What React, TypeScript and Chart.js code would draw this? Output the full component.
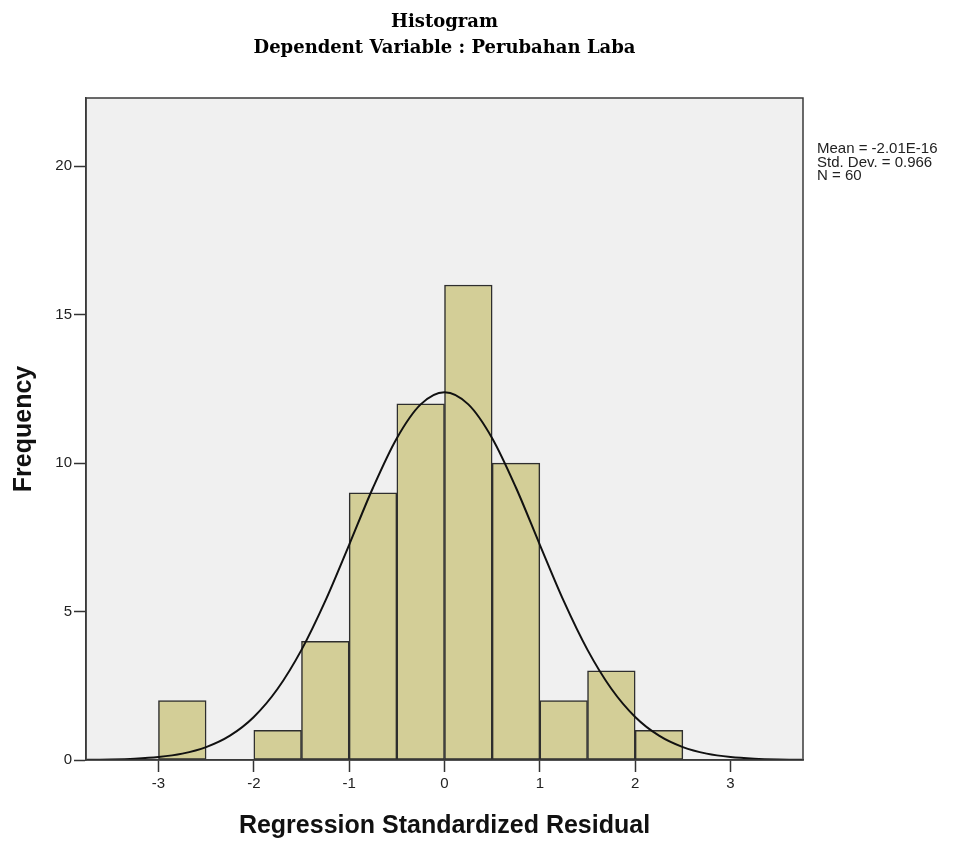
import React, { useEffect, useRef } from "react";
import { Chart, registerables } from "chart.js";

Chart.register(...registerables);

const BIN_CENTERS = [-2.75, -1.75, -1.25, -0.75, -0.25, 0.25, 0.75, 1.25, 1.75, 2.25];
const FREQUENCIES = [2, 1, 4, 9, 12, 16, 10, 2, 3, 1];

const CURVE_X = [
  -3.75, -3.5, -3.25, -3, -2.75, -2.5, -2.25, -2, -1.75, -1.5, -1.25, -1, -0.75, -0.5, -0.25,
  0, 0.25, 0.5, 0.75, 1, 1.25, 1.5, 1.75, 2, 2.25, 2.5, 2.75, 3, 3.25, 3.5, 3.75,
];
const CURVE_Y = [
  0.007, 0.017, 0.043, 0.1, 0.215, 0.435, 0.82, 1.45, 2.4, 3.71, 5.36, 7.25, 9.17, 10.84, 11.98,
  12.39, 11.98, 10.84, 9.17, 7.25, 5.36, 3.71, 2.4, 1.45, 0.82, 0.435, 0.215, 0.1, 0.043, 0.017, 0.007,
];

const X_TICKS = [-3, -2, -1, 0, 1, 2, 3];
const Y_TICKS = [0, 5, 10, 15, 20];

const TITLE_LINES = ["Histogram", "Dependent Variable : Perubahan Laba"];
const X_TITLE = "Regression Standardized Residual";
const Y_TITLE = "Frequency";
const STATS_LINES = ["Mean = -2.01E-16", "Std. Dev. = 0.966", "N = 60"];

export default function App() {
  const ref = useRef<HTMLCanvasElement | null>(null);

  useEffect(() => {
    if (!ref.current) return;
    const textPlugin = {
      id: "spssDecor",
      beforeDraw(chart: any) {
        const { ctx, chartArea } = chart;
        ctx.save();
        ctx.fillStyle = "#ffffff";
        ctx.fillRect(0, 0, chart.width, chart.height);
        ctx.fillStyle = "#f0f0f0";
        ctx.fillRect(chartArea.left, chartArea.top, chartArea.right - chartArea.left, chartArea.bottom - chartArea.top);
        ctx.restore();
      },
      afterDatasetsDraw(chart: any) {
        const { ctx, chartArea } = chart;
        ctx.save();
        ctx.strokeStyle = "#3a3a3a";
        ctx.lineWidth = 1.5;
        ctx.strokeRect(chartArea.left, chartArea.top, chartArea.right - chartArea.left, chartArea.bottom - chartArea.top);
        ctx.restore();
      },
      afterDraw(chart: any) {
        const { ctx, chartArea } = chart;
        const cx = chart.scales.x.getPixelForValue(0);
        ctx.save();
        ctx.fillStyle = "#000";
        ctx.textAlign = "center";
        ctx.textBaseline = "alphabetic";
        ctx.font = "bold 18px 'DejaVu Serif'";
        ctx.fillText(TITLE_LINES[0], cx, 27);
        ctx.fillText(TITLE_LINES[1], cx, 53);

        ctx.fillStyle = "#111";
        ctx.font = "bold 25px 'Liberation Sans'";
        ctx.fillText(X_TITLE, cx, 833);

        ctx.save();
        ctx.translate(31, (chartArea.top + chartArea.bottom) / 2);
        ctx.rotate(-Math.PI / 2);
        ctx.fillText(Y_TITLE, 0, 0);
        ctx.restore();

        ctx.fillStyle = "#222";
        ctx.textAlign = "left";
        ctx.font = "15px 'Liberation Sans'";
        STATS_LINES.forEach((s, i) => ctx.fillText(s, chartArea.right + 14, 153 + i * 13.5));
        ctx.restore();
      },
    };

    const chart = new Chart(ref.current, {
      type: "bar",
      data: {
        datasets: [
          {
            type: "line",
            data: CURVE_X.map((x, i) => ({ x, y: CURVE_Y[i] })),
            borderColor: "#111",
            borderWidth: 2,
            pointRadius: 0,
            cubicInterpolationMode: "monotone",
            fill: false,
            order: 0,
          } as any,
          {
            type: "bar",
            data: BIN_CENTERS.map((x, i) => ({ x, y: FREQUENCIES[i] })),
            backgroundColor: "#d3ce97",
            borderColor: "#2e2e2e",
            borderWidth: 1.5,
            borderSkipped: false,
            barPercentage: 1,
            categoryPercentage: 1,
            order: 1,
          } as any,
        ],
      },
      options: {
        responsive: false,
        animation: false,
        devicePixelRatio: 1,
        layout: { padding: { left: 0, top: 98, right: 164, bottom: 0 } },
        plugins: { legend: { display: false }, tooltip: { enabled: false }, title: { display: false } },
        scales: {
          x: {
            type: "linear",
            min: -3.76,
            max: 3.76,
            offset: false,
            afterBuildTicks: (s: any) => {
              s.ticks = X_TICKS.map((v) => ({ value: v }));
            },
            afterFit: (s: any) => {
              s.height = 81;
            },
            grid: { offset: false, drawOnChartArea: false, drawTicks: true, tickLength: 12, tickColor: "#333", tickWidth: 1.5 },
            border: { display: true, color: "#3a3a3a", width: 1.5 },
            ticks: { color: "#222", font: { family: "'Liberation Sans'", size: 15 }, padding: 3, maxRotation: 0, autoSkip: false },
          },
          y: {
            type: "linear",
            min: 0,
            max: 22.3,
            afterBuildTicks: (s: any) => {
              s.ticks = Y_TICKS.map((v) => ({ value: v }));
            },
            afterFit: (s: any) => {
              s.width = 86;
            },
            grid: { drawOnChartArea: false, drawTicks: true, tickLength: 12, tickColor: "#333", tickWidth: 1.5 },
            border: { display: true, color: "#3a3a3a", width: 1.5 },
            ticks: { color: "#222", font: { family: "'Liberation Sans'", size: 15 }, padding: 2, autoSkip: false },
          },
        },
      },
      plugins: [textPlugin],
    });
    return () => chart.destroy();
  }, []);

  return (
    <div style={{ position: "absolute", left: 0, top: 0, width: 967, height: 841 }}>
      <canvas ref={ref} width={967} height={841} style={{ width: 967, height: 841, display: "block" }} />
    </div>
  );
}
